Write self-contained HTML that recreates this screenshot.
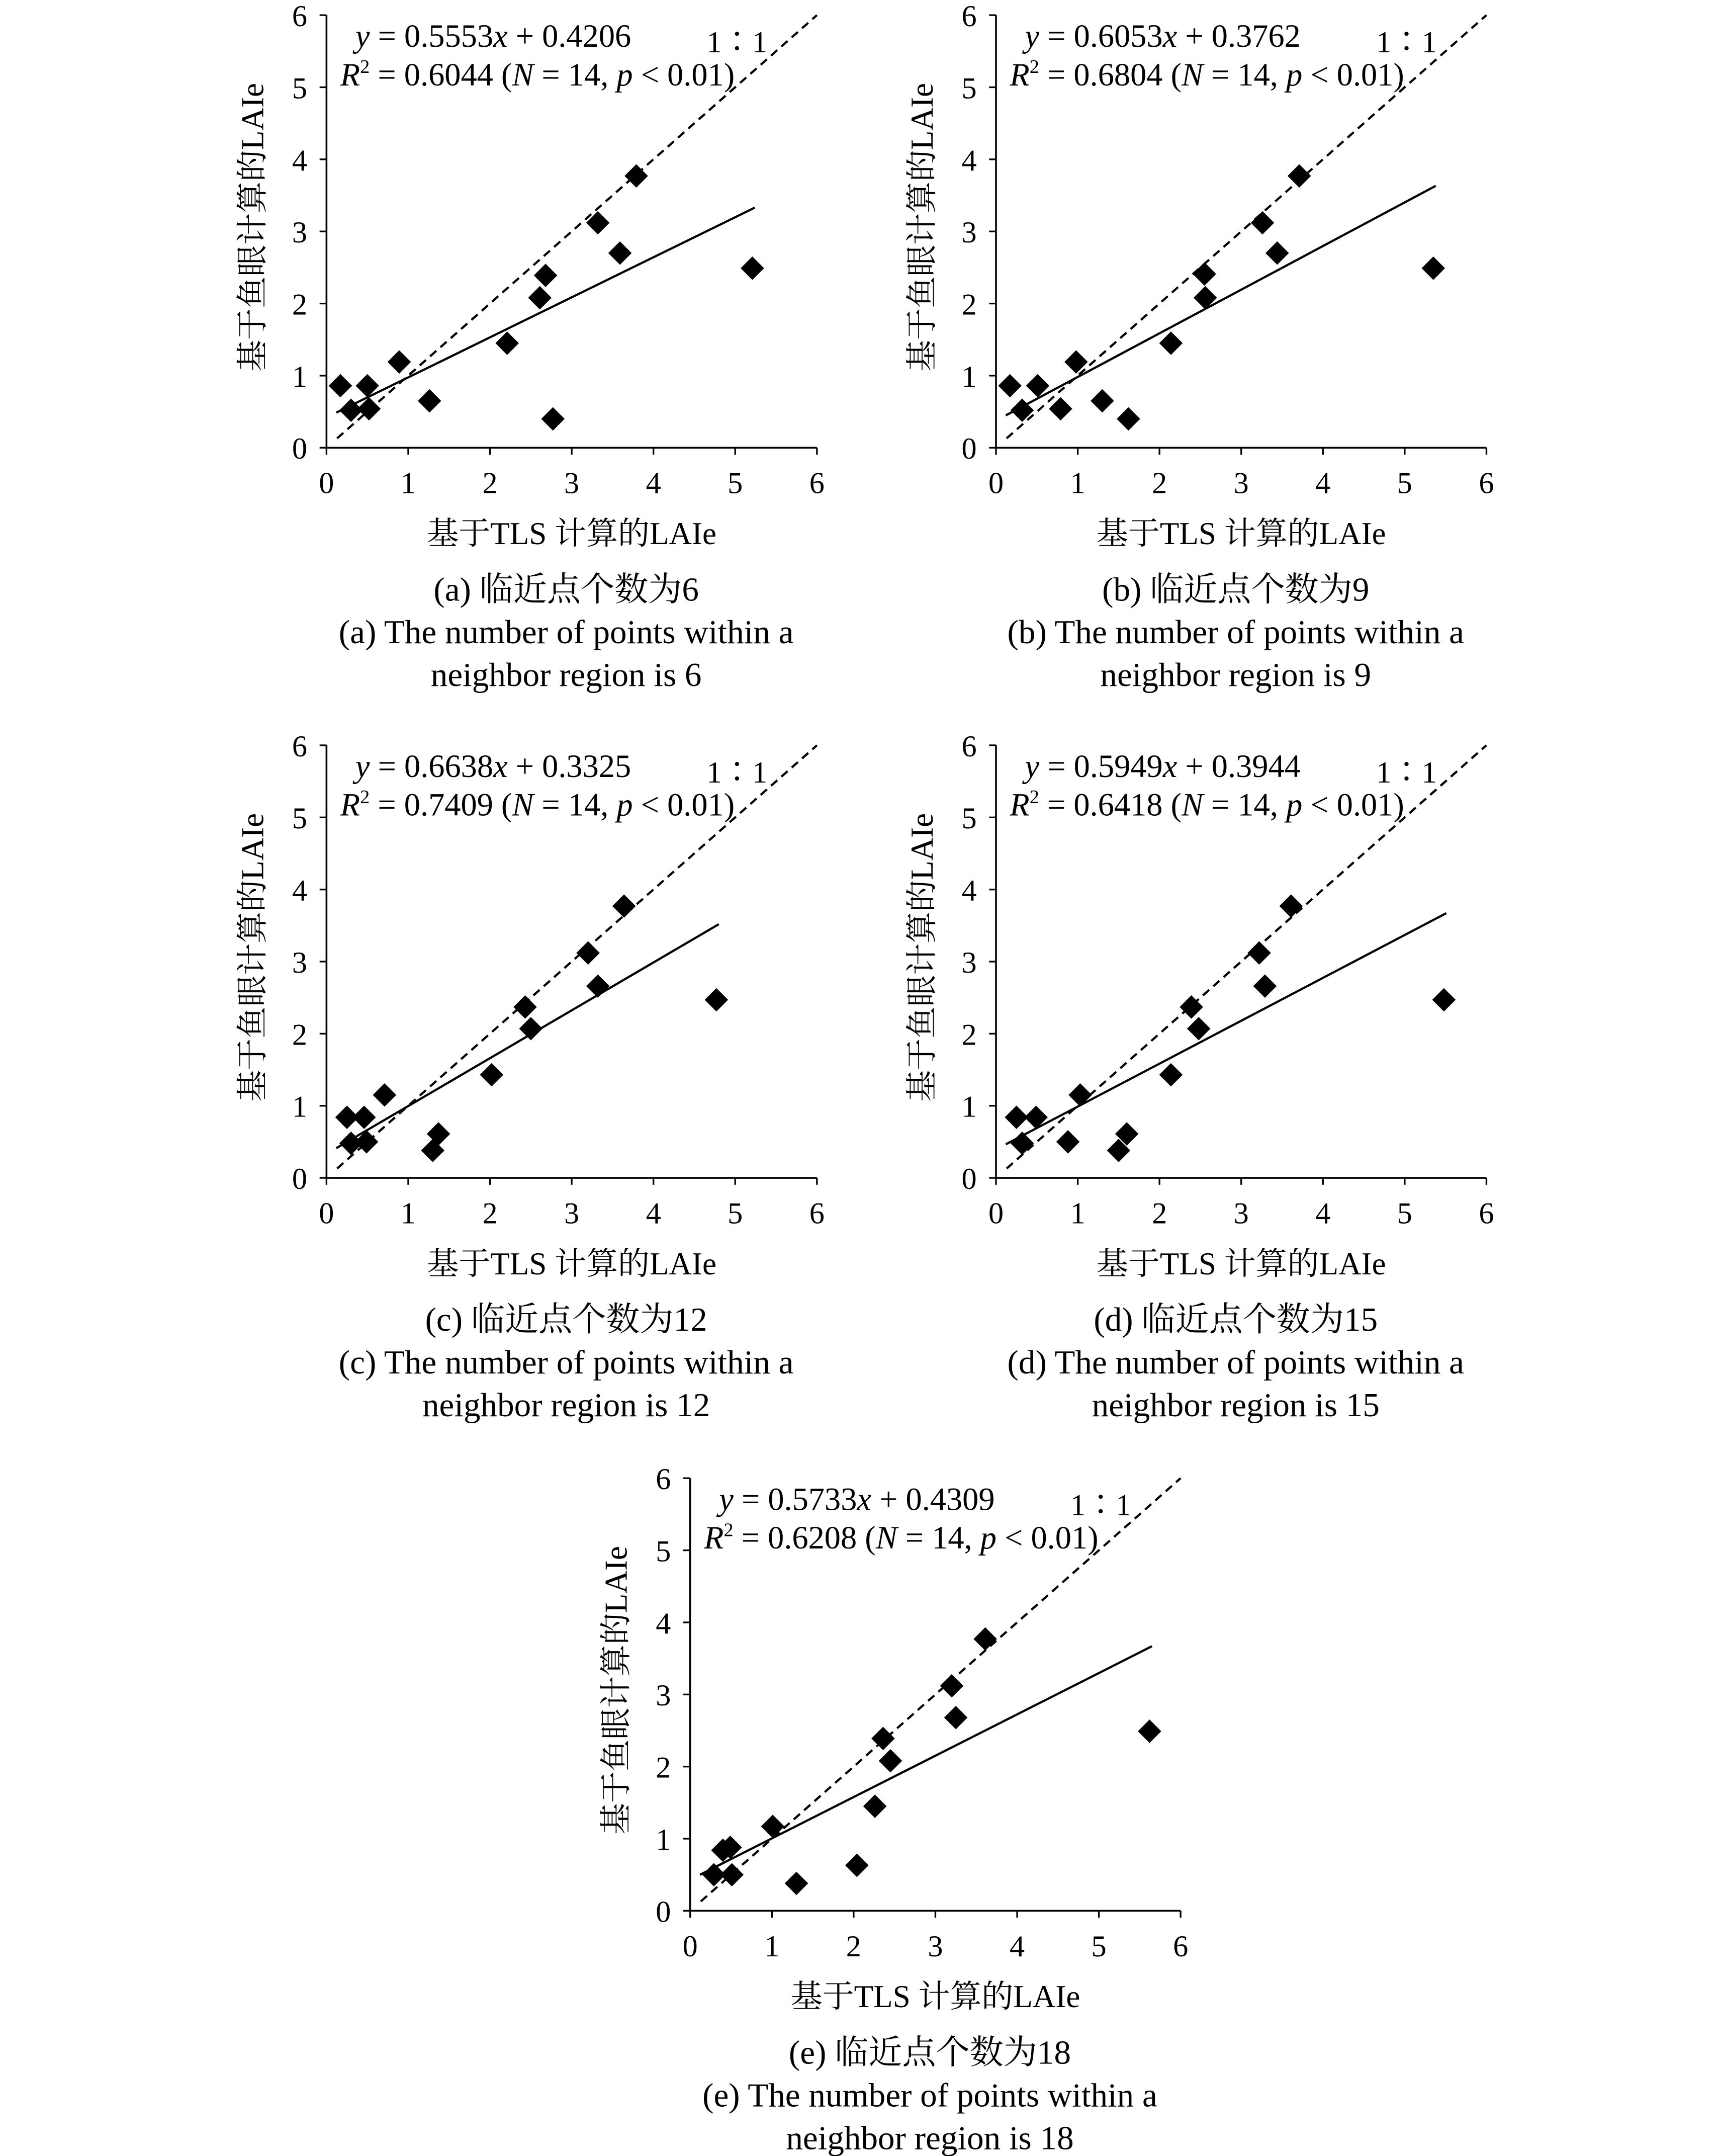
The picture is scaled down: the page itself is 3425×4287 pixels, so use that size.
<!DOCTYPE html>
<html><head><meta charset="utf-8"><style>
html,body{margin:0;padding:0;background:#fff;}
svg{display:block;}
text{font-family:"Liberation Serif","Noto Serif CJK SC",serif;fill:#000;}
</style></head><body>
<svg id="fig" width="3425" height="4287" viewBox="0 0 1250 1565" preserveAspectRatio="none" xmlns="http://www.w3.org/2000/svg"></svg>
<script>
// Panel data
const panelIds = ['a','b','c','d','e'];
const slopes = [0.5553,0.6053,0.6638,0.5949,0.5733];
const intercepts = [0.4206,0.3762,0.3325,0.3944,0.4309];
const r2s = ['0.6044','0.6804','0.7409','0.6418','0.6208'];
const neighbors = [6,9,12,15,18];
const xa = [0.17,0.30,0.50,0.52,0.89,1.26,2.21,2.61,2.68,2.77,3.32,3.59,3.79,5.21];
const ya = [0.86,0.52,0.86,0.54,1.19,0.65,1.45,2.08,2.39,0.40,3.12,2.70,3.77,2.49];
const xb = [0.17,0.32,0.51,0.79,0.98,1.30,1.62,2.14,2.55,2.56,3.26,3.44,3.71,5.35];
const yb = [0.86,0.52,0.86,0.54,1.19,0.65,0.40,1.45,2.41,2.08,3.12,2.70,3.77,2.49];
const xc = [0.25,0.30,0.46,0.49,0.71,1.30,1.37,2.02,2.43,2.50,3.20,3.32,3.64,4.77];
const yc = [0.84,0.48,0.84,0.50,1.15,0.38,0.61,1.43,2.37,2.07,3.12,2.66,3.77,2.47];
const xd = [0.25,0.32,0.49,0.88,1.03,1.50,1.60,2.14,2.39,2.48,3.22,3.29,3.61,5.48];
const yd = [0.84,0.48,0.84,0.50,1.15,0.38,0.61,1.43,2.37,2.07,3.12,2.66,3.77,2.47];
const xe = [0.29,0.40,0.49,0.51,1.01,1.30,2.04,2.26,2.36,2.45,3.20,3.25,3.61,5.62];
const ye = [0.50,0.84,0.88,0.50,1.17,0.38,0.63,1.45,2.39,2.08,3.12,2.68,3.77,2.49];
const xTicks = [0,1,2,3,4,5,6];
const yTicks = [0,1,2,3,4,5,6];

const xs=[xa,xb,xc,xd,xe], ys=[ya,yb,yc,yd,ye];
const origins=[[237,325],[723,325],[237,855],[723,855],[501,1387]];
const NS='http://www.w3.org/2000/svg';
const svg=document.getElementById('fig');
function mk(tag,attrs,parent){const e=document.createElementNS(NS,tag);for(const k in attrs)e.setAttribute(k,attrs[k]);(parent||svg).appendChild(e);return e;}
const W=356,H=314;
panelIds.forEach((id,i)=>{
  const [ox,oy]=origins[i];
  const g=mk('g',{});
  
  
  const sx=v=>ox+v/6*W, sy=v=>oy-v/6*H;
  const ax=mk('path',{d:`M${ox},${oy-H}V${oy}H${ox+W}`,stroke:'#000','stroke-width':1.3,fill:'none'},g);
  
  
  xTicks.forEach(t=>{
    mk('line',{x1:sx(t),x2:sx(t),y1:oy,y2:oy+5,stroke:'#000','stroke-width':1.2},g);
    const tx=mk('text',{x:sx(t),y:oy+33,'text-anchor':'middle','font-size':22},g);
    tx.textContent=t;
    
    
  });
  yTicks.forEach(t=>{
    mk('line',{x1:ox-5,x2:ox,y1:sy(t),y2:sy(t),stroke:'#000','stroke-width':1.2},g);
    const tx=mk('text',{x:ox-14,y:sy(t)+8,'text-anchor':'end','font-size':22},g);
    tx.textContent=t;
    
    
  });
  const dl=mk('line',{x1:sx(0.13),y1:sy(0.13),x2:sx(6),y2:sy(6),stroke:'#000','stroke-width':1.6,'stroke-dasharray':'6,4'},g);
  
  
  const xv=xs[i], yv=ys[i];
  const x0=0.12, x1=Math.max(...xv)+0.03;
  const fl=mk('line',{x1:sx(x0),y1:sy(slopes[i]*x0+intercepts[i]),x2:sx(x1),y2:sy(slopes[i]*x1+intercepts[i]),stroke:'#000','stroke-width':1.6},g);
  
  
  xv.forEach((v,j)=>{
    const cx=sx(v), cy=sy(yv[j]), r=8.5;
    const p=mk('path',{d:`M${cx},${cy-r}L${cx+r},${cy}L${cx},${cy+r}L${cx-r},${cy}Z`,fill:'#000'},g);
    
    
  });
  const eq=mk('text',{x:ox+21,y:oy-291,'font-size':23.5},g);
  eq.innerHTML=`<tspan font-style="italic">y</tspan> = ${slopes[i].toFixed(4)}<tspan font-style="italic">x</tspan> + ${intercepts[i].toFixed(4)}`;
  
  
  const r2=mk('text',{x:ox+10,y:oy-263,'font-size':23.5},g);
  r2.innerHTML=`<tspan font-style="italic">R</tspan><tspan font-size="14" dy="-9">2</tspan><tspan dy="9"> = ${r2s[i]} (</tspan><tspan font-style="italic">N</tspan> = 14, <tspan font-style="italic">p</tspan> &lt; 0.01)`;
  
  
  const one=mk('text',{x:ox+276,y:oy-287,'font-size':22},g);
  one.textContent='1∶1';
  
  
  const yt=mk('text',{x:0,y:0,'font-size':23,'text-anchor':'middle',transform:`translate(${ox-46},${oy-160}) rotate(-90)`},g);
  yt.textContent='基于鱼眼计算的LAIe';
  
  
  const xt=mk('text',{x:ox+178,y:oy+70,'font-size':23,'text-anchor':'middle'},g);
  xt.textContent='基于TLS 计算的LAIe';
  
  
  const caps=[`(${id}) 临近点个数为${neighbors[i]}`,`(${id}) The number of points within a`,`neighbor region is ${neighbors[i]}`];
  caps.forEach((c,k)=>{
    const ct=mk('text',{x:ox+174,y:oy+111+k*31,'font-size':24.5,'text-anchor':'middle'},g);
    ct.textContent=c;
    
    
  });
});
</script>
</body></html>
